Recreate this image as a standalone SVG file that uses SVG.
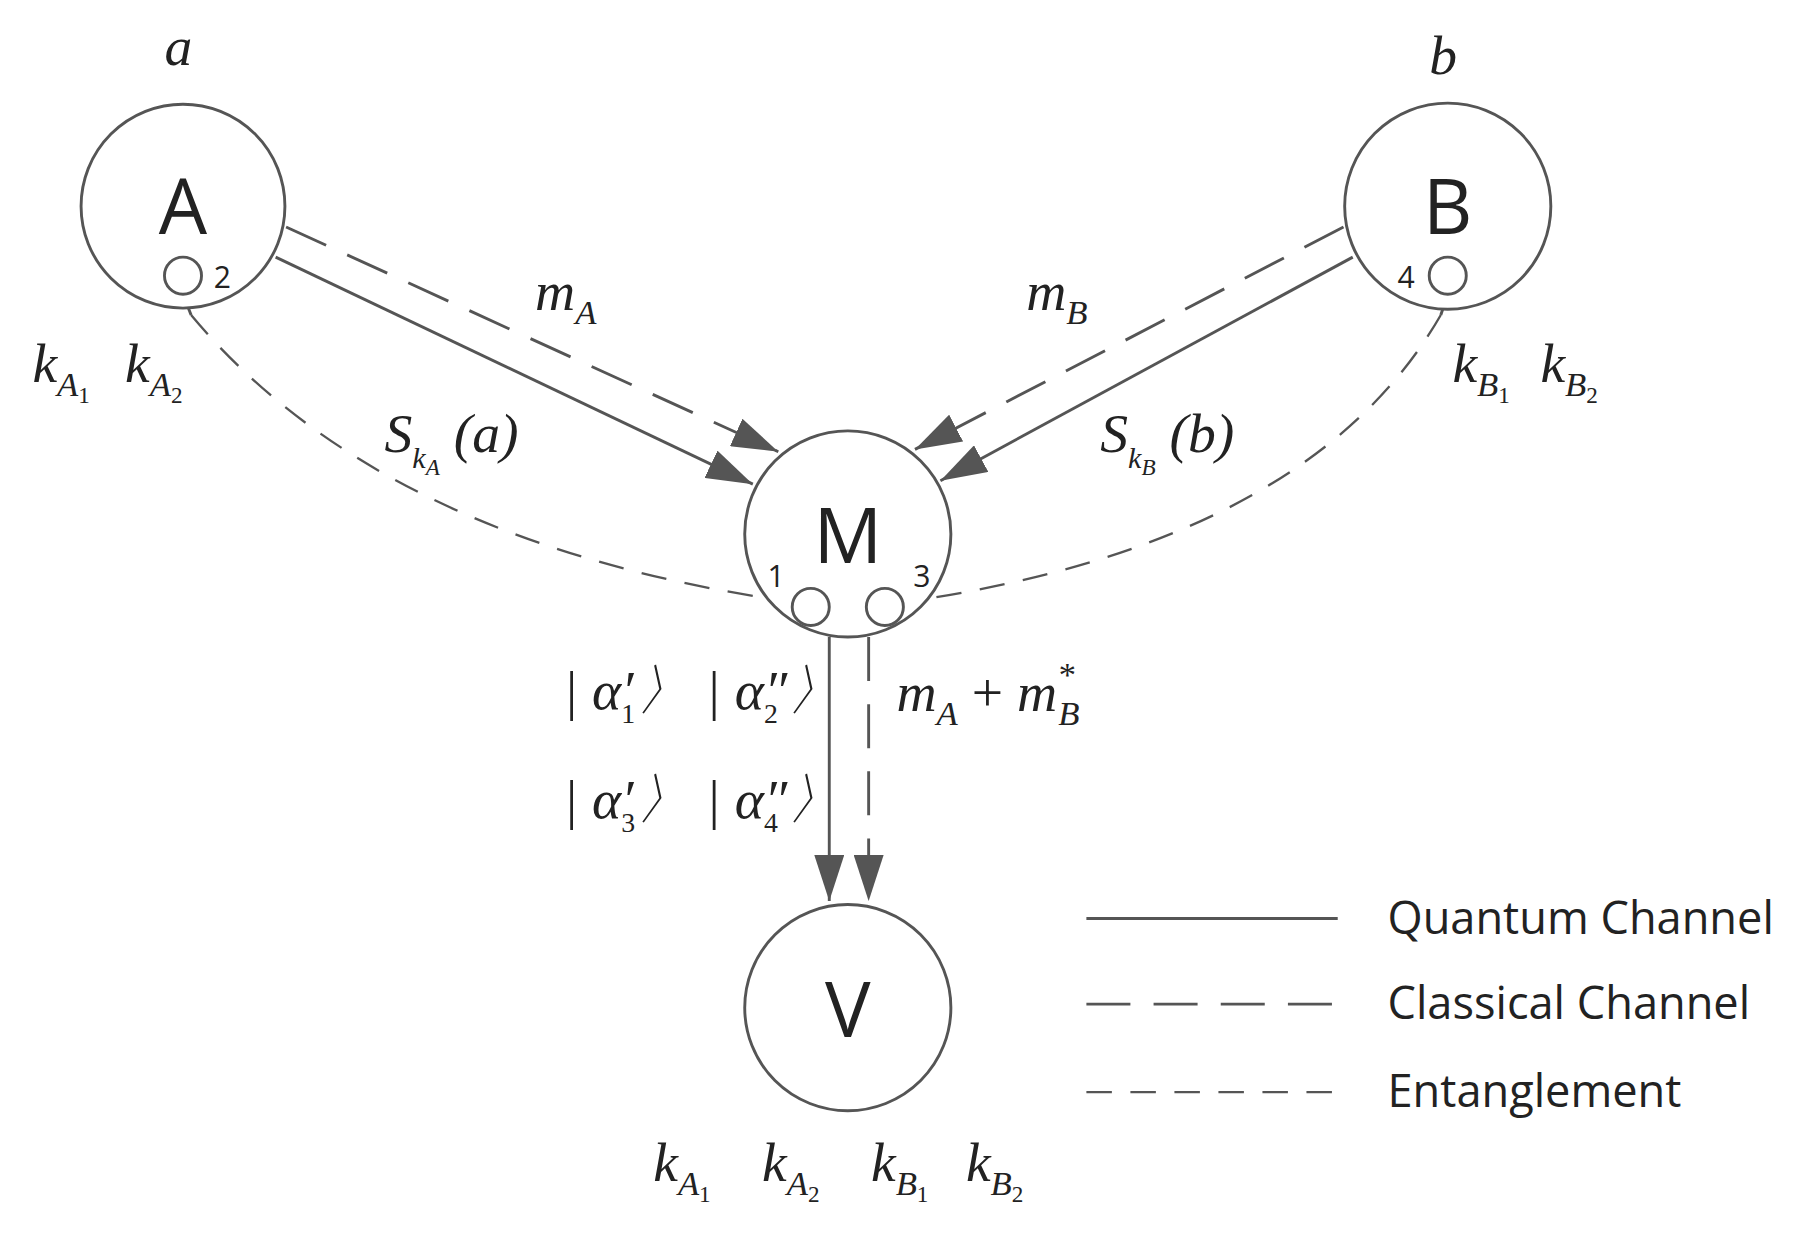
<svg xmlns="http://www.w3.org/2000/svg" width="1816" height="1234" viewBox="0 0 1816 1234">
<defs>
<marker id="ar" viewBox="0 0 40 26" refX="40" refY="13" markerWidth="40" markerHeight="26" markerUnits="userSpaceOnUse" orient="auto"><path d="M0,0 L40,13 L0,26 z" fill="#555"/></marker>
<style>
.c{fill:#fff;stroke:#555;stroke-width:2.5}
.q{fill:none;stroke:#555;stroke-width:2.5}
.cl{fill:none;stroke:#555;stroke-width:2.5;stroke-dasharray:38,20}
.en{fill:none;stroke:#555;stroke-width:2;stroke-dasharray:22,16}
.n{font-family:"Open Sans","DejaVu Sans",sans-serif;font-size:66px;fill:#222;text-anchor:middle}
.d{font-family:"Open Sans","DejaVu Sans",sans-serif;font-size:26px;fill:#222;text-anchor:middle}
.m{font-family:"Liberation Serif",serif;font-style:italic;font-size:48px;fill:#222}
.sub{font-size:30px}
.lg{font-family:"Open Sans","DejaVu Sans",sans-serif;font-size:39px;fill:#222}
</style>
</defs>
<rect width="1816" height="1234" fill="#fff"/>
<g transform="scale(1.1582)">
<g id="connectors">
<path class="q" d="M238,222 L650,418" marker-end="url(#ar)"/>
<path class="cl" d="M247,196 L672,390" marker-end="url(#ar)"/>
<path class="cl" d="M1160,196 L790,388" marker-end="url(#ar)"/>
<path class="q" d="M1168,222 L812,415" marker-end="url(#ar)"/>
<path class="q" d="M158,254 L165,272"/>
<path class="en" d="M165,272 Q330,470 686,520"/>
<path class="q" d="M1250,254 L1244,272"/>
<path class="en" d="M1244,272 Q1130,470 780,520"/>
<path class="q" d="M716,550 L716,778" marker-end="url(#ar)"/>
<path class="cl" d="M750,550 L750,778" marker-end="url(#ar)"/>
</g>
<g id="A"><circle class="c" cx="158" cy="178" r="88"/><text class="n" x="158" y="202">A</text><circle class="c" cx="158" cy="238" r="16"/><text class="d" x="192" y="249">2</text></g>
<g id="B"><circle class="c" cx="1250" cy="178" r="89"/><text class="n" x="1250" y="202">B</text><circle class="c" cx="1250" cy="238" r="16"/><text class="d" x="1214" y="249">4</text></g>
<g id="M"><circle class="c" cx="732" cy="461" r="89"/><text class="n" x="732" y="486">M</text><circle class="c" cx="700" cy="524" r="16"/><circle class="c" cx="764" cy="524" r="16"/><text class="d" x="670" y="507">1</text><text class="d" x="796" y="507">3</text></g>
<g id="V"><circle class="c" cx="732" cy="870" r="89"/><text class="n" x="732" y="895">V</text></g>
<g id="labels">
<text class="m" x="142" y="56">a</text>
<text class="m" x="1234" y="64">b</text>
<text class="m" x="462" y="268">m<tspan class="sub" dy="12">A</tspan></text>
<text class="m" x="886" y="268">m<tspan class="sub" dy="12">B</tspan></text>
<text class="m" x="28" y="330">k<tspan class="sub" dy="12">A</tspan><tspan font-size="20" dy="6" font-style="normal">1</tspan></text>
<text class="m" x="108" y="330">k<tspan class="sub" dy="12">A</tspan><tspan font-size="20" dy="6" font-style="normal">2</tspan></text>
<text class="m" x="1254" y="330">k<tspan class="sub" dy="12">B</tspan><tspan font-size="20" dy="6" font-style="normal">1</tspan></text>
<text class="m" x="1330" y="330">k<tspan class="sub" dy="12">B</tspan><tspan font-size="20" dy="6" font-style="normal">2</tspan></text>
<text class="m" x="332" y="390">S<tspan font-size="26" dy="14">k</tspan><tspan font-size="20" dy="6">A</tspan><tspan dy="-20"> (a)</tspan></text>
<text class="m" x="950" y="390">S<tspan font-size="26" dy="14">k</tspan><tspan font-size="20" dy="6">B</tspan><tspan dy="-20"> (b)</tspan></text>
<text class="m" x="486" y="612">| α<tspan font-size="24" font-style="normal" dy="12">1</tspan><tspan dx="-12" dy="-12">′</tspan><tspan dx="2">〉 | α</tspan><tspan font-size="24" font-style="normal" dy="12">2</tspan><tspan dx="-12" dy="-12">″</tspan><tspan>〉</tspan></text>
<text class="m" x="486" y="706">| α<tspan font-size="24" font-style="normal" dy="12">3</tspan><tspan dx="-12" dy="-12">′</tspan><tspan dx="2">〉 | α</tspan><tspan font-size="24" font-style="normal" dy="12">4</tspan><tspan dx="-12" dy="-12">″</tspan><tspan>〉</tspan></text>
<text class="m" x="774" y="614">m<tspan class="sub" dy="12">A</tspan><tspan dy="-12" font-style="normal"> + </tspan>m<tspan class="sub" dy="-22">*</tspan><tspan class="sub" dx="-14" dy="34">B</tspan></text>
<text class="m" x="564" y="1020">k<tspan class="sub" dy="12">A</tspan><tspan font-size="20" dy="6" font-style="normal">1</tspan></text>
<text class="m" x="658" y="1020">k<tspan class="sub" dy="12">A</tspan><tspan font-size="20" dy="6" font-style="normal">2</tspan></text>
<text class="m" x="752" y="1020">k<tspan class="sub" dy="12">B</tspan><tspan font-size="20" dy="6" font-style="normal">1</tspan></text>
<text class="m" x="834" y="1020">k<tspan class="sub" dy="12">B</tspan><tspan font-size="20" dy="6" font-style="normal">2</tspan></text>
</g>
<g id="legend">
<line class="q" x1="938" y1="793" x2="1155" y2="793"/>
<line class="cl" x1="938" y1="867" x2="1155" y2="867"/>
<line class="en" x1="938" y1="943" x2="1155" y2="943"/>
<text class="lg" x="1198" y="806">Quantum Channel</text>
<text class="lg" x="1198" y="880">Classical Channel</text>
<text class="lg" x="1198" y="956">Entanglement</text>
</g>
</g>
</svg>
